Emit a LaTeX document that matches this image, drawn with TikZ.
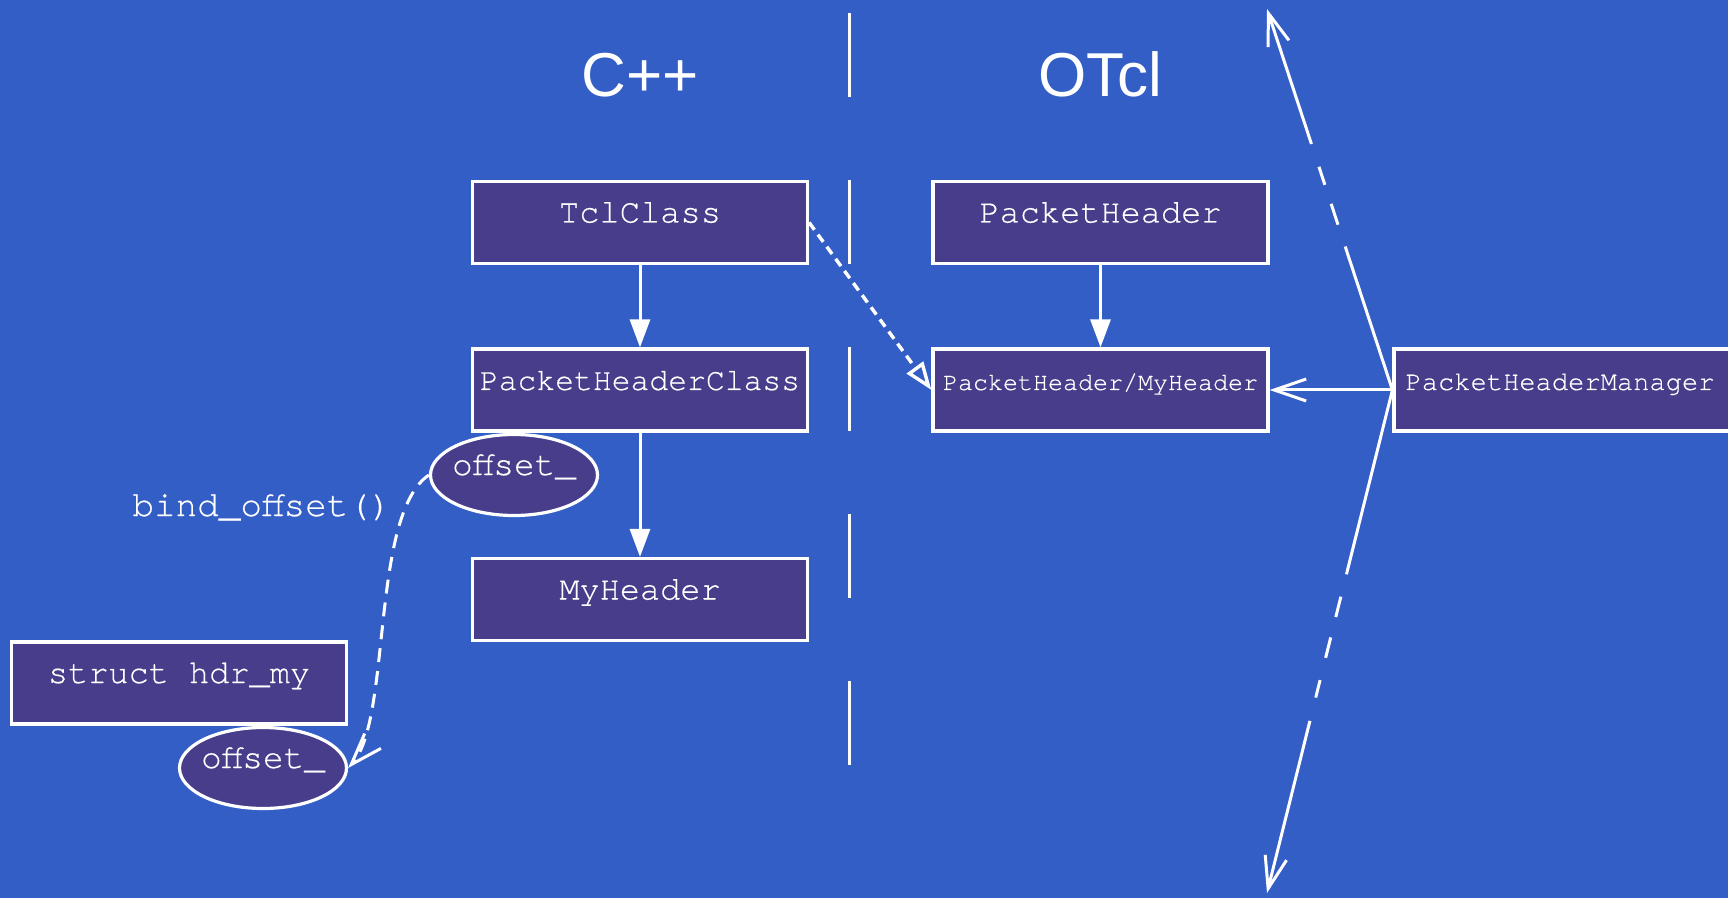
\documentclass[tikz,border=0pt]{standalone}
\usepackage{fontspec}
\newfontfamily\monof[FakeBold=0.4]{texgyrecursor-regular.otf}
\newfontfamily\sansf{Liberation Sans}
\usetikzlibrary{arrows.meta,shapes.geometric}
\definecolor{bgc}{RGB}{51,94,198}
\definecolor{boxc}{RGB}{72,61,139}
\begin{document}
\begin{tikzpicture}[x=0.5pt,y=-0.5pt,
  box/.style={draw=white, line width=1.6pt, fill=boxc, minimum width=167.5pt,
    minimum height=41pt, inner sep=0pt, text height=0pt, text depth=0pt, text=white},
  oval/.style={ellipse, draw=white, line width=1.6pt, fill=boxc, minimum width=83.5pt,
    minimum height=40.5pt, inner sep=0pt},
  lbl/.style={text=white, inner sep=0pt, text height=0pt, text depth=0pt},
  mono/.style={font=\monof\fontsize{#1}{#1}\selectfont},
  conn/.style={draw=white, line width=1.5pt},
  solidtip/.style={-{Triangle[length=14pt,width=10pt]}},
  opentip/.style={-{Triangle[open,length=14pt,width=10pt]}},
  veetip/.style={-{Straight Barb[length=16pt,width=11pt]}},
  title/.style={font=\sansf\fontsize{31}{31}\selectfont, text=white, inner sep=0pt, anchor=base}
]
\useasboundingbox (0,0) rectangle (1728,898);
\fill[bgc] (0,0) rectangle (1728,898);
\clip (0,0) rectangle (1728,898);

% titles
\node[title] (cpp) at (640,97) {C++};
\node[title] (otcl) at (1100,97) {OTcl};

% divider
\coordinate (divtop) at (849,13);
\coordinate (divbot) at (849,766);
\draw[white, line width=1.5pt, dash pattern=on 42pt off 41.5pt] (divtop) -- (divbot);

% C++ side
\node[box, mono=16.9] (tcl) at (640,222.5) {TclClass};
\node[box, mono=15.7] (phc) at (640,390) {PacketHeaderClass};
\node[box, mono=16.8] (myh) at (640,599.5) {MyHeader};
\node[box, mono=16.8] (hdr) at (179,683) {struct hdr\_my};

\node[oval, label={[lbl, mono=17.2]center:offset\_}] (off1) at (514,475) {};
\node[oval, label={[lbl, mono=17.2]center:offset\_}] (off2) at (263,768) {};

% OTcl side
\node[box, mono=16.8] (ph) at (1100.5,222.5) {PacketHeader};
\node[box, mono=12.5] (phmy) at (1100.5,390) {PacketHeader/MyHeader};
\node[box, minimum width=186pt, label={[lbl, mono=13.55, xshift=-10pt]center:PacketHeaderManager}] (phm) at (1580,390) {};

% connectors
\draw[conn, solidtip] (tcl) -- (phc);
\draw[conn, solidtip] (phc) -- (myh);
\draw[conn, solidtip] (ph) -- (phmy);
\draw[conn, opentip, line width=1.7pt, dash pattern=on 4.5pt off 3pt] (tcl.east) -- (phmy.west);
\draw[conn, veetip] (phm.west) -- (phmy.east);

\coordinate (uptip) at (1267,9);
\coordinate (downtip) at (1267,893);
\draw[conn, veetip, dash pattern=on 75.5pt off 11.5pt on 11pt off 10pt on 9.5pt off 12pt on 90pt]
  (phm.west) -- (uptip);
\draw[conn, veetip, dash pattern=on 95pt off 11.5pt on 10.5pt off 10.5pt on 10.5pt off 11.5pt on 9pt off 12pt on 100pt]
  (phm.west) -- (downtip);

% bind_offset
\draw[conn, veetip, dash pattern=on 7pt off 4.5pt]
  (off1.west) .. controls (370,515) and (392,720) .. (off2.east);
\node[lbl, mono=18, anchor=base, text height=, text depth=] (bind) at (262,516) {bind\_offset()};
\end{tikzpicture}
\end{document}
